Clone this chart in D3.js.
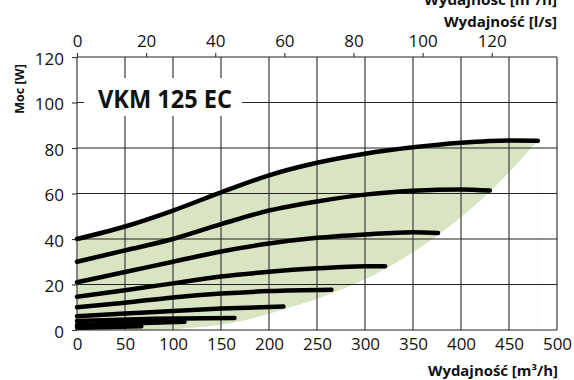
<!DOCTYPE html>
<html>
<head>
<meta charset="utf-8">
<script src="https://cdn.jsdelivr.net/npm/d3@7"></script>
<style>
  body { margin: 0; background: #fff; }
  svg { display: block; font-family: "Open Sans", sans-serif; }
</style>
</head>
<body>
<div id="chart"></div>
<script>
// fan curves, [flow m3/h, power W]
const curve1 = [[0, 40], [50, 45.5], [100, 52.5], [150, 60.5], [200, 68], [250, 73.5], [300, 77.5], [350, 80.3], [400, 82.3], [450, 83.3], [480, 83.2]];
const curve2 = [[0, 30], [50, 35], [100, 40], [150, 46.5], [200, 52.5], [250, 56.5], [300, 59.5], [350, 61.2], [400, 61.8], [430, 61.3]];
const curve3 = [[0, 21], [50, 25.5], [100, 30], [150, 34.5], [200, 38], [250, 40.5], [300, 42], [350, 43], [376, 42.6]];
const curve4 = [[0, 14.6], [50, 17.5], [100, 20.5], [150, 23.5], [200, 25.6], [250, 27.1], [300, 28], [321, 28]];
const curve5 = [[0, 10], [50, 12], [100, 14.3], [150, 16], [200, 17.1], [265, 17.7]];
const curve6 = [[0, 6], [50, 7.2], [100, 8.4], [150, 9.4], [215, 10.3]];
const curve7 = [[0, 4], [80, 4.9], [164, 5.3]];
const curve8 = [[0, 2.2], [112, 3.6]];
const curve9 = [[0, 1], [67, 1.6]];
const curves = [curve1, curve2, curve3, curve4, curve5, curve6, curve7, curve8, curve9];

// lower edge of the working area
const lowerEdge = [[0, 0], [80, 0], [120, 1], [160, 3], [215, 9], [265, 16], [321, 26.8], [376, 41.8], [430, 60.8], [480, 83.2]];

const xTicks = [0, 50, 100, 150, 200, 250, 300, 350, 400, 450, 500];
const yTicks = [0, 20, 40, 60, 80, 100, 120];
const topTicks = [0, 20, 40, 60, 80, 100, 120]; // l/s

const width = 574, height = 380;
const margin = {top: 57, right: 17, bottom: 50, left: 77};

const svg = d3.select('#chart')
  .append('svg')
  .attr('width', width)
  .attr('height', height);

const x = d3.scaleLinear().domain([0, 500]).range([margin.left, width - margin.right]);
const y = d3.scaleLinear().domain([0, 120]).range([height - margin.bottom, margin.top]);
const xTop = d3.scaleLinear().domain([0, 500 / 3.6]).range([margin.left, width - margin.right]);

// green area
svg.append('path')
  .datum(curve1)
  .attr('fill', '#d9e4c3')
  .attr('d', d3.area().x(d => x(d[0])).y0(y(0)).y1(d => y(d[1])).curve(d3.curveMonotoneX));
svg.append('path')
  .datum(lowerEdge)
  .attr('fill', '#fff')
  .attr('d', d3.area().x(d => x(d[0])).y0(y(0) + 1).y1(d => y(d[1])).curve(d3.curveMonotoneX));

// grid
svg.append('g')
  .selectAll('line')
  .data(xTicks)
  .join('line')
  .attr('x1', d => x(d)).attr('x2', d => x(d))
  .attr('y1', y(0)).attr('y2', y(120))
  .attr('stroke', '#555')
  .attr('stroke-width', 1.4);
svg.append('g')
  .selectAll('line')
  .data(yTicks)
  .join('line')
  .attr('x1', x(0)).attr('x2', x(500))
  .attr('y1', d => y(d)).attr('y2', d => y(d))
  .attr('stroke', '#222')
  .attr('stroke-width', 1.1);

// axes
const leftAxis = svg.append('g')
  .attr('transform', `translate(${margin.left},0)`)
  .call(d3.axisLeft(y).tickValues(yTicks).tickSize(5).tickPadding(8));
const bottomAxis = svg.append('g')
  .attr('transform', `translate(0,${y(0)})`)
  .call(d3.axisBottom(x).tickValues(xTicks).tickSize(0).tickPadding(8));
const topAxis = svg.append('g')
  .attr('transform', `translate(0,${margin.top})`)
  .call(d3.axisTop(xTop).tickValues(topTicks).tickSize(4).tickPadding(6));

[leftAxis, bottomAxis, topAxis].forEach(g => {
  g.select('.domain').remove();
  g.selectAll('line').attr('stroke', '#333').attr('stroke-width', 1.1);
  g.selectAll('text')
    .attr('font-family', '"Open Sans", sans-serif')
    .attr('font-size', 17)
    .attr('fill', '#111');
});
leftAxis.selectAll('text').attr('dy', '0.42em');

// model label
svg.append('rect')
  .attr('x', 84).attr('y', 78)
  .attr('width', 158).attr('height', 38)
  .attr('fill', '#fff');
svg.append('text')
  .attr('x', 98).attr('y', 108)
  .attr('font-size', 25)
  .attr('font-weight', 'bold')
  .attr('textLength', 134)
  .attr('lengthAdjust', 'spacingAndGlyphs')
  .attr('fill', '#111')
  .text('VKM 125 EC');

// curves
const line = d3.line()
  .x(d => x(d[0]))
  .y(d => y(d[1]))
  .curve(d3.curveMonotoneX);
svg.append('g')
  .selectAll('path')
  .data(curves)
  .join('path')
  .attr('fill', 'none')
  .attr('stroke', '#000')
  .attr('stroke-width', 4.5)
  .attr('stroke-linecap', 'round')
  .attr('d', line);

// axis titles
svg.append('text')
  .attr('transform', 'translate(24,89) rotate(-90)')
  .attr('text-anchor', 'middle')
  .attr('font-size', 12.5)
  .attr('font-weight', 'bold')
  .attr('fill', '#111')
  .text('Moc [W]');
svg.append('text')
  .attr('x', 558).attr('y', 376)
  .attr('text-anchor', 'end')
  .attr('font-size', 13.5)
  .attr('font-weight', 'bold')
  .attr('textLength', 130)
  .attr('lengthAdjust', 'spacingAndGlyphs')
  .attr('fill', '#111')
  .text('Wydajność [m³/h]');
svg.append('text')
  .attr('x', 557).attr('y', 5)
  .attr('text-anchor', 'end')
  .attr('font-size', 13.5)
  .attr('font-weight', 'bold')
  .attr('textLength', 133)
  .attr('lengthAdjust', 'spacingAndGlyphs')
  .attr('fill', '#111')
  .text('Wydajność [m³/h]');
svg.append('text')
  .attr('x', 557).attr('y', 27)
  .attr('text-anchor', 'end')
  .attr('font-size', 13.5)
  .attr('font-weight', 'bold')
  .attr('textLength', 113)
  .attr('lengthAdjust', 'spacingAndGlyphs')
  .attr('fill', '#111')
  .text('Wydajność [l/s]');
</script>
</body>
</html>
